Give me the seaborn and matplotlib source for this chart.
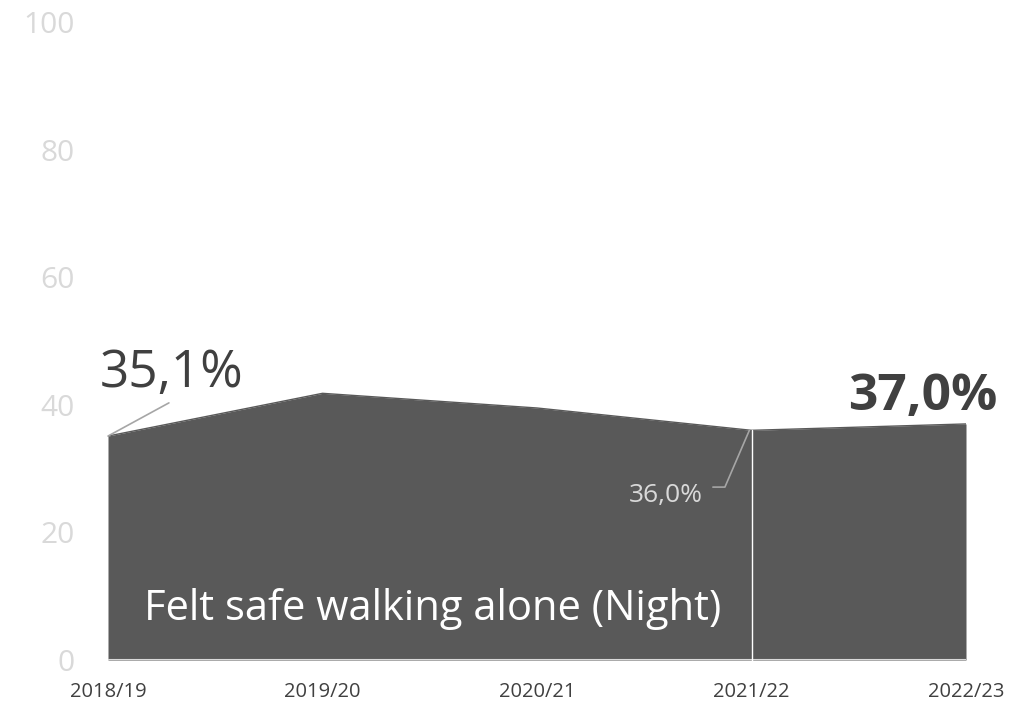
import matplotlib
matplotlib.use("Agg")
import matplotlib.pyplot as plt
import seaborn as sns
import pandas as pd
import numpy as np

years = ["2018/19", "2019/20", "2020/21", "2021/22", "2022/23"]
values = [35.1, 41.8, 39.5, 36.0, 37.0]
y_ticks = [0, 20, 40, 60, 80, 100]
series_label = "Felt safe walking alone (Night)"

sns.set_theme(style="white")
plt.rcParams['font.family'] = ['Open Sans', 'DejaVu Sans']

df = pd.DataFrame({"x": np.arange(len(years)), "year": years, "value": values})

fig = plt.figure(figsize=(10.28, 7.02), dpi=100)
ax = fig.add_axes([108/1028, 42/702, (966-108)/1028, (660-22)/702])

fill = "#595959"
ax.fill_between(df["x"], 0, df["value"], color=fill, linewidth=0, zorder=2)
sns.lineplot(data=df, x="x", y="value", ax=ax, color=fill, linewidth=1, zorder=3)

# baseline
ax.axhline(0, color="#d9d9d9", linewidth=1.5, zorder=4)
# white vertical marker at 2021/22
ax.plot([3, 3], [-1, values[3]], color="white", linewidth=1, zorder=5, clip_on=False)

ax.set_xlim(0, len(years) - 1)
ax.set_ylim(0, 100)
ax.set_yticks(y_ticks)
ax.set_yticklabels([str(t) for t in y_ticks], color="#d9d9d9", fontsize=21.5)
ax.set_xticks(df["x"])
ax.set_xticklabels(years, color="#404040", fontsize=14.5)
ax.tick_params(axis="y", length=0, pad=24)
ax.tick_params(axis="x", length=0, pad=16)
ax.set_xlabel("")
ax.set_ylabel("")
for s in ax.spines.values():
    s.set_visible(False)

# annotations
ax.text(-0.04, 42.8, "35,1%", fontsize=37, color="#404040", ha="left", va="baseline",
        clip_on=False)
ax.plot([0, 0.284], [values[0], 40.3], color="#a6a6a6", lw=1.2, zorder=4, clip_on=False)

ax.text(4.145, 39.2, "37,0%", fontsize=37, fontweight="bold", color="#404040",
        ha="right", va="baseline", clip_on=False)

ax.text(2.774, 24.8, "36,0%", fontsize=19, color="#d9d9d9", ha="right", va="baseline", zorder=6)
ax.plot([2.82, 2.876, 2.99], [27.1, 27.1, values[3]], color="#a6a6a6", lw=1.2, zorder=6)

ax.text(0.17, 6.3, series_label, fontsize=30, color="white", ha="left", va="baseline", zorder=6)

fig.savefig("out.png", dpi=100)
